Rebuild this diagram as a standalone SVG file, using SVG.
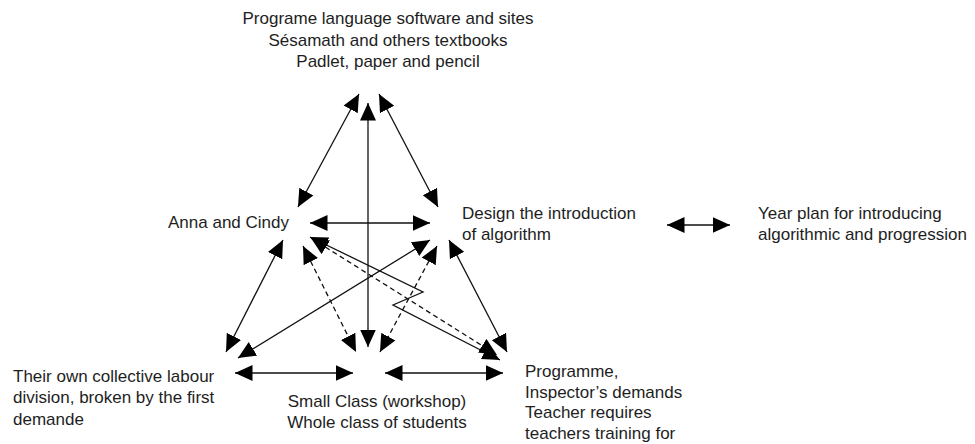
<svg xmlns="http://www.w3.org/2000/svg" width="975" height="444" viewBox="0 0 975 444">
  <style>
    text { font-family: "Liberation Sans", Arial, sans-serif; font-size: 17px; fill: #1e1e1e; }
    .c { text-anchor: middle; }
    .ln { stroke: #111; stroke-width: 1.3; fill: none; marker-start: url(#ah); marker-end: url(#ah); }
    .d { stroke-dasharray: 5 3.5; }
  </style>
  <defs>
    <marker id="ah" markerUnits="userSpaceOnUse" markerWidth="18" markerHeight="17" refX="17.5" refY="8.5" orient="auto-start-reverse" viewBox="0 0 18 17">
      <path d="M0,0.5 L17.5,8.5 L0,16.5 Z" fill="#000"/>
    </marker>
  </defs>
  <rect width="975" height="444" fill="#fff"/>

  <g id="tools">
    <text class="c" x="388" y="24">Programe language software and sites</text>
    <text class="c" x="388" y="46">Sésamath and others textbooks</text>
    <text class="c" x="388" y="67">Padlet, paper and pencil</text>
  </g>
  <g id="subject">
    <text x="168" y="228">Anna and Cindy</text>
  </g>
  <g id="object">
    <text x="462" y="219">Design the introduction</text>
    <text x="462" y="240">of algorithm</text>
  </g>
  <g id="outcome">
    <text x="758" y="219">Year plan for introducing</text>
    <text x="758" y="240">algorithmic and progression</text>
  </g>
  <g id="division">
    <text x="13" y="381.5">Their own collective labour</text>
    <text x="13" y="403">division, broken by the first</text>
    <text x="13" y="425">demande</text>
  </g>
  <g id="community">
    <text class="c" x="377" y="406.5">Small Class (workshop)</text>
    <text class="c" x="377" y="427.5">Whole class of students</text>
  </g>
  <g id="rules">
    <text x="525" y="377">Programme,</text>
    <text x="525" y="397.5">Inspector’s demands</text>
    <text x="525" y="418">Teacher requires</text>
    <text x="525" y="438.5">teachers training for</text>
  </g>

  <g id="connectors">
    <line class="ln" x1="359" y1="94" x2="298" y2="207"/>
    <line class="ln" x1="379" y1="94" x2="438" y2="207"/>
    <line class="ln" x1="368" y1="103" x2="368" y2="347"/>
    <line class="ln" x1="310" y1="223" x2="430" y2="223"/>
    <line class="ln" x1="283" y1="240" x2="226" y2="352"/>
    <line class="ln" x1="449" y1="240" x2="507" y2="352"/>
    <line class="ln" x1="385" y1="373" x2="503" y2="373"/>
    <line class="ln" x1="235" y1="373" x2="353" y2="373"/>
    <line class="ln" x1="430" y1="240" x2="238" y2="358"/>
    <polyline class="ln" points="310,237 423,292 393,305 500,360"/>
    <line class="ln d" x1="311" y1="238" x2="497" y2="355"/>
    <line class="ln d" x1="303" y1="246" x2="356" y2="352"/>
    <line class="ln d" x1="437" y1="246" x2="380" y2="352"/>
    <line class="ln" x1="667" y1="225" x2="730" y2="225"/>
  </g>
</svg>
